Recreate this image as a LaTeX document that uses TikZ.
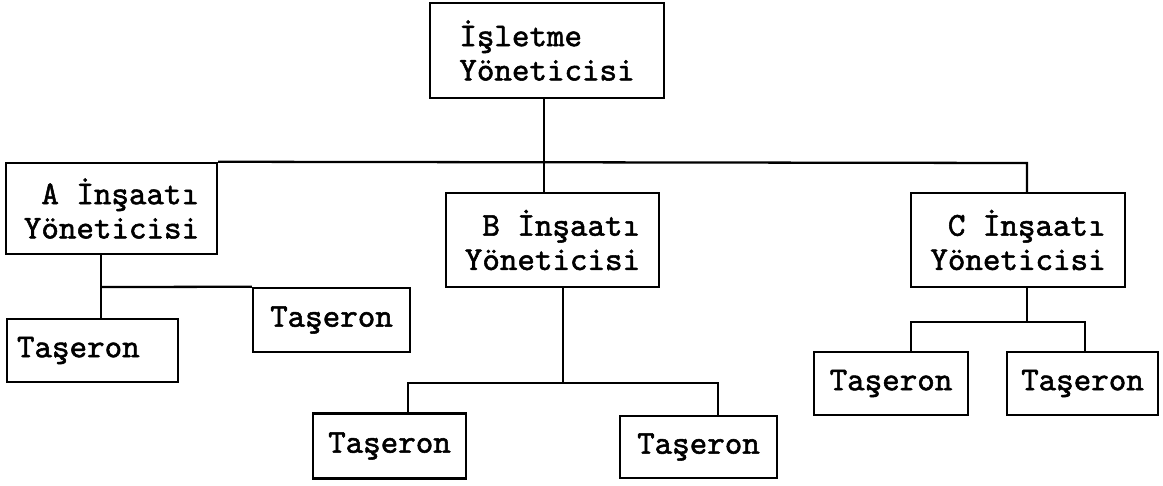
\documentclass[tikz,border=0pt]{standalone}
\usepackage{fontspec}
\newfontfamily\dotfont{lmmono10-regular.otf}[FakeBold=1.6]
\usetikzlibrary{positioning}
\tikzset{
  box/.style={draw, line width=1.4pt, font=\dotfont\fontsize{19}{19.5}\selectfont,
    inner sep=0pt, align=center},
  mgr/.style={box, align=right},
  sub/.style={box, minimum height=1.26cm},
  link/.style={line width=1.3pt},
}
\begin{document}
\begin{tikzpicture}[x=0.02cm, y=-0.02cm]
  \useasboundingbox (0,0) rectangle (1163,486);
  % top manager
  \node[mgr, align=left, minimum width=4.68cm, minimum height=1.9cm] (isl) at (547,50.5) {İşletme\\Yöneticisi};
  % site managers
  \node[mgr, minimum width=4.22cm, minimum height=1.82cm] (A) at (111.5,208.5) {A İnşaatı\\Yöneticisi};
  \node[mgr, minimum width=4.26cm, minimum height=1.88cm] (B) at (552.5,240) {B İnşaatı\\Yöneticisi};
  \node[mgr, minimum width=4.28cm, minimum height=1.88cm] (C) at (1018,240) {C İnşaatı\\Yöneticisi};
  % subcontractors
  \node[sub, text width=3.02cm, align=left, minimum width=3.42cm] (at1) at (92.5,350.5) {Taşeron};
  \node[sub, minimum width=3.14cm, minimum height=1.28cm] (at2) at (331.5,320) {Taşeron};
  \node[sub, minimum width=3.06cm, minimum height=1.3cm] (bt1) at (389.5,446) {Taşeron};
  \node[sub, minimum width=3.14cm, minimum height=1.24cm] (bt2) at (698.5,447) {Taşeron};
  \node[sub, minimum width=3.08cm] (ct1) at (891,383.5) {Taşeron};
  \node[sub, minimum width=3.02cm] (ct2) at (1082.5,383.5) {Taşeron};
  % bus points
  \coordinate (tdrop) at (544,163);
  \coordinate (cdrop) at (1027,163);
  \coordinate (adrop) at (101,287);
  \coordinate (bbus) at (563,383);
  \coordinate (bl) at (408,383);
  \coordinate (br) at (718,383);
  \coordinate (cbus) at (1027,322);
  \coordinate (cl) at (911,322);
  \coordinate (cr) at (1085,322);
  % links
  \draw[link] (isl.south -| tdrop) -- (tdrop |- B.north);
  \draw[link] (A.north east) -- (cdrop) -- (cdrop |- C.north);
  \draw[link] (A.south -| adrop) -- (adrop |- at1.north);
  \draw[link] (adrop) -- (at2.north west);
  \draw[link] (B.south -| bbus) -- (bbus);
  \draw[link] (bl |- bt1.north) -- (bl) -- (br) -- (br |- bt2.north);
  \draw[link] (C.south -| cbus) -- (cbus);
  \draw[link] (cl |- ct1.north) -- (cl) -- (cr) -- (cr |- ct2.north);
\end{tikzpicture}
\end{document}
